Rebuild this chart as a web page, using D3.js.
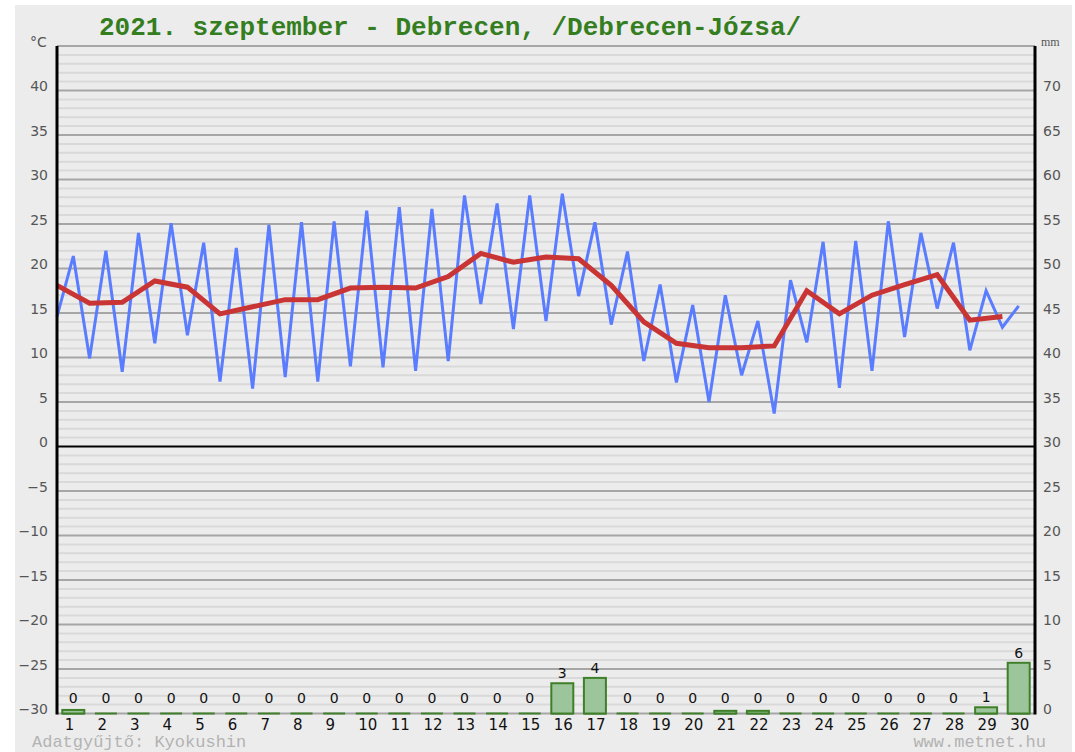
<!DOCTYPE html>
<html>
<head>
<meta charset="utf-8">
<script src="https://cdn.jsdelivr.net/npm/d3@7"></script>
<style>
  body { margin: 0; background: #fff; }
  text { font-family: "DejaVu Sans", Verdana, sans-serif; }
</style>
</head>
<body>
<div id="chart"></div>
<script>
  /* data */
  var days = d3.range(1, 31);
  // morning minimum, drawn at the start of each day
  var tMin = [14.6, 9.9, 8.4, 11.6, 12.5, 7.3, 6.5, 7.8, 7.3, 9.0,
              8.9, 8.5, 9.6, 16.0, 13.2, 14.1, 16.9, 13.7, 9.6, 7.2,
              5.0, 8.0, 3.7, 11.7, 6.6, 8.5, 12.3, 15.5, 10.8, 13.4];
  // afternoon maximum, drawn at the middle of each day
  var tMax = [21.4, 22.0, 24.0, 25.1, 22.9, 22.3, 24.9, 25.2, 25.3, 26.5,
              26.9, 26.7, 28.2, 27.3, 28.2, 28.4, 25.2, 21.9, 18.2, 15.9,
              17.0, 14.1, 18.7, 23.0, 23.1, 25.3, 24.0, 22.9, 17.5, 15.8];
  // daily mean
  var tAvg = [18.1, 16.1, 16.2, 18.6, 17.9, 14.9, 15.7, 16.5, 16.5, 17.8,
              17.9, 17.8, 19.1, 21.7, 20.7, 21.3, 21.1, 18.1, 14.0, 11.6,
              11.1, 11.1, 11.3, 17.5, 14.9, 17.0, 18.2, 19.3, 14.2, 14.6];
  // precipitation, mm
  var precip = [0.4, 0, 0, 0, 0, 0, 0, 0, 0, 0,
                0, 0, 0, 0, 0, 3.4, 4.0, 0, 0, 0,
                0.3, 0.3, 0, 0, 0, 0, 0, 0, 0.7, 5.7];
  var tempTicks = d3.range(-30, 41, 5);
  var mmTicks = d3.range(0, 71, 5);

  var width = 1075, height = 752;
  var plotLeft = 57, plotRight = 1035, plotTop = 46, plotBottom = 713.5;

  var svg = d3.select("#chart")
      .append("svg")
      .attr("width", width)
      .attr("height", height);

  // grey card behind everything
  svg.append("rect")
      .attr("x", 15).attr("y", 5)
      .attr("width", 1057).attr("height", height - 5)
      .attr("fill", "#ececec");

  /* scales: one unit of x is one day */
  var x = d3.scaleLinear().domain([0, 30]).range([plotLeft, plotRight]);
  var y = d3.scaleLinear().domain([-30, 45]).range([plotBottom, plotTop]);
  var yMm = d3.scaleLinear().domain([0, 75]).range([plotBottom, plotTop]);

  /* grid lines */
  var grid = svg.append("g");
  grid.selectAll("line.minor")
      .data(d3.range(-29, 45).filter(function(d) { return d % 5 !== 0; }))
      .enter().append("line")
      .attr("class", "minor")
      .attr("x1", plotLeft).attr("x2", plotRight)
      .attr("y1", function(d) { return y(d); })
      .attr("y2", function(d) { return y(d); })
      .style("stroke", "#d9d9d9")
      .style("stroke-width", 2);
  grid.selectAll("line.major")
      .data(d3.range(-30, 46, 5))
      .enter().append("line")
      .attr("class", "major")
      .attr("x1", plotLeft).attr("x2", plotRight)
      .attr("y1", function(d) { return y(d); })
      .attr("y2", function(d) { return y(d); })
      .style("stroke", function(d) { return d === 0 ? "#000" : "#a6a6a6"; })
      .style("stroke-width", 2);

  /* precipitation bars */
  var bw = 22;
  var bars = svg.append("g");
  bars.selectAll("line")
      .data(days)
      .enter().append("line")
      .attr("x1", function(d) { return x(d - 0.5) - bw / 2; })
      .attr("x2", function(d) { return x(d - 0.5) + bw / 2; })
      .attr("y1", yMm(0)).attr("y2", yMm(0))
      .style("stroke", "#3f7f2a")
      .style("stroke-width", 2);
  bars.selectAll("rect")
      .data(days.filter(function(d) { return precip[d - 1] > 0; }))
      .enter().append("rect")
      .attr("x", function(d) { return x(d - 0.5) - bw / 2; })
      .attr("y", function(d) { return yMm(precip[d - 1]); })
      .attr("width", bw)
      .attr("height", function(d) { return yMm(0) - yMm(precip[d - 1]); })
      .style("fill", "#9cc59c")
      .style("stroke", "#3f7f2a")
      .style("stroke-width", 2);
  bars.selectAll("text")
      .data(days)
      .enter().append("text")
      .attr("x", function(d) { return x(d - 0.5); })
      .attr("y", function(d) { return Math.min(yMm(precip[d - 1]) - 5, 703); })
      .attr("text-anchor", "middle")
      .style("font-size", "14px")
      .style("fill", "#111")
      .text(function(d) { return Math.round(precip[d - 1]); });

  /* temperature lines */
  var minMax = [];
  days.forEach(function(d, i) {
    minMax.push({t: d - 1, v: tMin[i]});
    minMax.push({t: d - 0.5, v: tMax[i]});
  });
  var line = d3.line()
      .x(function(d) { return x(d.t); })
      .y(function(d) { return y(d.v); });

  svg.append("path")
      .datum(minMax)
      .attr("d", line)
      .style("fill", "none")
      .style("stroke", "#5a7cff")
      .style("stroke-width", 3);

  svg.append("path")
      .datum(days.map(function(d, i) { return {t: d - 1, v: tAvg[i]}; }))
      .attr("d", line)
      .style("fill", "none")
      .style("stroke", "#c93434")
      .style("stroke-width", 5);

  /* axes */
  var yAxis = svg.append("g")
      .attr("transform", "translate(" + plotLeft + ",0)")
      .call(d3.axisLeft(y).tickValues(tempTicks).tickSize(0).tickPadding(9));
  var yAxisR = svg.append("g")
      .attr("transform", "translate(" + plotRight + ",0)")
      .call(d3.axisRight(yMm).tickValues(mmTicks).tickSize(0).tickPadding(8));
  [yAxis, yAxisR].forEach(function(a) {
    a.select(".domain").remove();
    a.selectAll("text")
        .attr("dy", "0em")
        .style("font-family", "DejaVu Sans")
        .style("font-size", "14px")
        .style("fill", "#555");
  });

  var xAxis = svg.append("g")
      .attr("transform", "translate(0," + plotBottom + ")")
      .call(d3.axisBottom(x)
        .tickValues(days.map(function(d) { return d - 0.5; }))
        .tickFormat(function(d) { return d + 0.5; })
        .tickSize(0).tickPadding(6));
  xAxis.select(".domain").remove();
  xAxis.selectAll("text")
      .attr("text-anchor", "start")
      .attr("x", -9)
      .style("font-family", "DejaVu Sans")
      .style("font-size", "15px")
      .style("fill", "#111");

  // black side rails
  svg.append("line")
      .attr("x1", plotLeft).attr("x2", plotLeft).attr("y1", plotTop).attr("y2", plotBottom + 1)
      .style("stroke", "#000").style("stroke-width", 3);
  svg.append("line")
      .attr("x1", plotRight).attr("x2", plotRight).attr("y1", plotTop).attr("y2", plotBottom + 1)
      .style("stroke", "#000").style("stroke-width", 3);

  /* units, title, footer */
  svg.append("text")
      .attr("x", 30).attr("y", 47)
      .style("font-size", "14px").style("fill", "#555")
      .text("°C");
  svg.append("text")
      .attr("x", 1041).attr("y", 46)
      .style("font-family", "Liberation Serif")
      .style("font-size", "12px").style("fill", "#555")
      .text("mm");

  svg.append("text")
      .attr("x", 99).attr("y", 35)
      .style("font-family", "Liberation Mono")
      .style("font-weight", "bold")
      .style("font-size", "26px")
      .style("fill", "#357e1f")
      .text("2021. szeptember - Debrecen, /Debrecen-Józsa/");

  svg.append("text")
      .attr("x", 32).attr("y", 747)
      .style("font-family", "Liberation Mono")
      .style("font-size", "17px")
      .style("fill", "#b3b3b3")
      .text("Adatgyűjtő: Kyokushin");
  svg.append("text")
      .attr("x", 1046).attr("y", 747)
      .attr("text-anchor", "end")
      .style("font-family", "Liberation Mono")
      .style("font-size", "17px")
      .style("fill", "#b3b3b3")
      .text("www.metnet.hu");
</script>
</body>
</html>
